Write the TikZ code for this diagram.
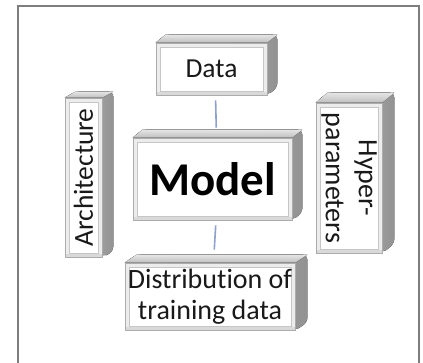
\documentclass[tikz,border=0pt]{standalone}
\usepackage{fontspec}
\setmainfont[Ligatures={NoCommon,NoRare}]{Carlito}
\usetikzlibrary{backgrounds,calc}
\newcommand\bevelbox[3]{%
  \begin{scope}[on background layer]
    \fill[rounded corners=5pt,left color=gray!50,right color=gray!85]
      (#1.north west) -- ([shift={(#2pt,#3pt)}]#1.north west)
      -- ([shift={(#2pt,#3pt)}]#1.north east)
      -- ([shift={(#2pt,#3pt)}]#1.south east) -- (#1.south east) -- cycle;
    \fill[top color=gray!20,bottom color=gray!50]
      (#1.north west) -- ([shift={(#2pt,#3pt)}]#1.north west)
      -- ([shift={(#2pt,#3pt)}]#1.north east) -- (#1.north east) -- cycle;
  \end{scope}}
\tikzset{
  box/.style={draw=gray!65, line width=0.8pt, fill=white, inner sep=0pt,
    text=black!90,
    path picture={
      \fill[gray!15,even odd rule]
        (path picture bounding box.south west) rectangle (path picture bounding box.north east)
        ([shift={(4pt,4pt)}]path picture bounding box.south west) rectangle
        ([shift={(-4pt,-4pt)}]path picture bounding box.north east);
      \fill[gray!30] (path picture bounding box.south west) rectangle
        ([shift={(0pt,3pt)}]path picture bounding box.south east);
      \draw[gray!45,line width=0.5pt]
        ([shift={(4pt,4pt)}]path picture bounding box.south west) rectangle
        ([shift={(-4pt,-4pt)}]path picture bounding box.north east);
    }},
  smalltext/.style={font=\fontsize{27.5}{31}\selectfont},
  conn/.style={draw={rgb,255:red,143;green,160;blue,205}, line width=1.6pt}
}
\begin{document}
\begin{tikzpicture}[x=1pt,y=-1pt]
  \useasboundingbox (0,0) rectangle (423,362);
  \clip (0,0) rectangle (423,362);
  \draw[gray!55!black!70, line width=1.6pt] (18,375) -- (18,6) -- (419,6) -- (419,375);

  \node[box, smalltext, minimum width=111pt, minimum height=52pt] (data) at (211.5,69) {Data};
  \node[box, font=\fontsize{47}{50}\selectfont\bfseries, text=black, minimum width=159pt, minimum height=82pt] (model) at (212.5,179) {Model};
  \node[box, smalltext, minimum width=37pt, minimum height=159pt] (arch) at (83.5,177.5) {\rotatebox{90}{Architecture}};
  \node[box, font=\fontsize{28}{33}\selectfont, minimum width=58pt, minimum height=150pt] (hyper) at (349,178)
    {\rotatebox{-90}{\begin{tabular}{@{}c@{}}Hyper-\\parameters\end{tabular}}};
  \node[box, font=\fontsize{28}{31}\selectfont, align=center, minimum width=170pt, minimum height=67pt] (dist) at (210,296.5)
    {Distribution of\\training data};

  \bevelbox{data}{10}{8}
  \bevelbox{model}{10}{8}
  \bevelbox{arch}{11}{6}
  \bevelbox{hyper}{12}{10}
  \bevelbox{dist}{12}{8}

  \draw[conn, shorten <=5pt, shorten >=10pt] ([xshift=4pt]data.south) -- ([xshift=4pt]model.north);
  \draw[conn, shorten <=5pt, shorten >=13pt] ([xshift=3.5pt]model.south) -- ([xshift=3.5pt]dist.north);
\end{tikzpicture}
\end{document}
